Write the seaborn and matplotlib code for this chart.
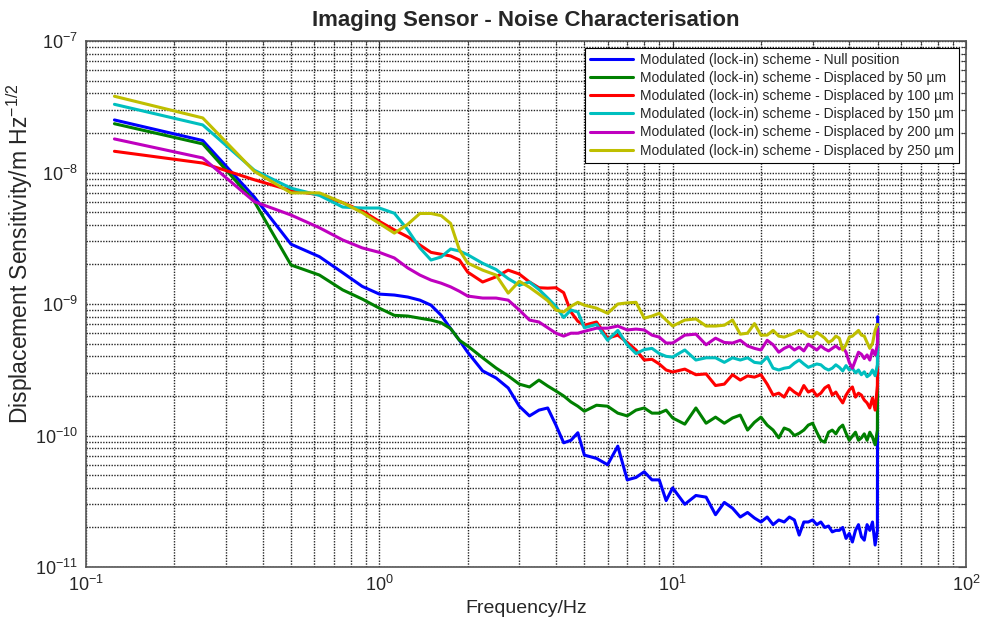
import numpy as np
import pandas as pd
import seaborn as sns
import matplotlib.pyplot as plt
from matplotlib.ticker import LogLocator, NullFormatter

sns.set_theme(style="white")
plt.rcParams.update({
    "axes.titlesize": 16,
    "axes.labelsize": 14,
    "xtick.labelsize": 13,
    "ytick.labelsize": 13,
    "legend.fontsize": 10,
    "mathtext.fontset": "custom",
    "mathtext.rm": "Liberation Sans",
    "mathtext.it": "Liberation Sans:italic",
})
plt.rcParams["font.family"] = ["Liberation Sans", "DejaVu Sans"]

# frequency bins (Hz)
freq_hz = [0.125, 0.25, 0.375, 0.5, 0.625, 0.75, 0.875, 1.0, 1.125, 1.25, 1.375, 1.5,
           1.625, 1.75, 1.875, 2.0,
           2.25, 2.5, 2.75, 3.0, 3.25, 3.5, 3.75, 4.0, 4.25, 4.5, 4.75, 5.0,
           5.5, 6.0, 6.5, 7.0, 7.5, 8.0, 8.5, 9.0, 9.5,
           10, 11, 12, 13, 14, 15, 16, 17, 18, 19, 20, 21, 22, 23, 24, 25, 26, 27, 28, 29,
           30, 31, 32, 33, 34, 35, 36, 37, 38, 39, 40, 41, 42, 43, 44, 45, 46, 47, 48, 49,
           49.875, 50]

# displacement sensitivity in units of 1e-10 m/sqrt(Hz)
UNIT = 1e-10
null_pos = [251, 175, 65, 28.5, 22.9, 17.3, 13.6, 11.9, 11.7, 11.3, 10.7, 9.8, 8.2, 6.5, 5.3, 4.3,
            3.1, 2.74, 2.30, 1.67, 1.41, 1.56, 1.62, 1.20, 0.88, 0.92, 1.05, 0.71,
            0.67, 0.60, 0.83, 0.46, 0.48, 0.53, 0.46, 0.46, 0.32,
            0.40, 0.30, 0.35, 0.34, 0.25, 0.31, 0.28, 0.24, 0.26, 0.236, 0.22, 0.24, 0.21, 0.228,
            0.22, 0.24, 0.228, 0.175, 0.22, 0.22, 0.228, 0.21, 0.22, 0.20, 0.205, 0.185, 0.19,
            0.19, 0.20, 0.165, 0.18, 0.155, 0.19, 0.21, 0.17, 0.16, 0.21, 0.19, 0.22, 0.147,
            0.19, 8.0]
disp_50 = [235, 165, 60, 19.8, 16.6, 12.8, 10.9, 9.3, 8.2, 8.1, 7.8, 7.55, 7.2, 6.5, 5.3, 4.8,
           3.9, 3.26, 2.84, 2.46, 2.34, 2.64, 2.38, 2.18, 2.0, 1.80, 1.67, 1.53,
           1.70, 1.67, 1.48, 1.41, 1.56, 1.62, 1.48, 1.48, 1.56,
           1.36, 1.22, 1.62, 1.24, 1.38, 1.24, 1.36, 1.43, 1.10, 1.26, 1.38, 1.2, 1.10, 0.96,
           1.14, 1.10, 1.0, 1.04, 1.10, 1.2, 1.24, 1.06, 0.92, 0.89, 1.06, 1.10, 1.03, 1.14,
           1.2, 1.04, 0.92, 0.99, 1.06, 0.92, 0.96, 1.03, 0.92, 1.06, 0.97, 0.85,
           1.10, 6.5]
disp_100 = [145, 118, 88, 73, 67.6, 59, 51, 42.5, 36.6, 32.4, 28.1, 24.7, 23.9, 23.2, 21.6, 17.5,
            14.7, 16.1, 18.1, 16.9, 14.7, 13.3, 13.2, 13.3, 12.2, 8.7, 7.4, 6.9,
            7.3, 5.5, 5.8, 5.1, 4.47, 3.75, 3.8, 3.5, 3.15,
            3.04, 3.2, 2.9, 2.94, 2.4, 2.46, 2.9, 2.64, 2.84, 2.78, 2.9, 2.46, 2.03, 2.1, 1.96,
            2.3, 2.14, 2.03, 2.4, 2.14, 2.22, 2.0, 2.1, 2.3, 2.4, 2.03, 2.14, 1.93, 1.77, 2.03,
            2.22, 2.34, 1.96, 2.1, 2.03, 1.86, 1.77, 1.62, 1.93, 1.56,
            2.4, 6.0]
disp_150 = [330, 230, 104, 76, 67, 54.6, 53.7, 53.7, 49, 36.6, 26.7, 21.6, 22.8, 26.2, 25.3, 23.7,
            20.4, 18.3, 15.6, 13.9, 14.7, 12.9, 11.1, 9.6, 7.9, 9.0, 8.7, 6.6,
            7.0, 5.3, 6.3, 4.9, 4.2, 4.5, 4.6, 4.2, 4.0,
            3.95, 4.47, 3.75, 3.9, 3.9, 3.6, 3.9, 3.75, 3.9, 3.6, 3.55, 3.95, 3.25, 3.15, 3.25,
            3.3, 3.55, 3.75, 3.5, 3.3, 3.4, 3.5, 3.45, 3.25, 3.15, 3.25, 3.45, 3.3, 3.1, 3.4,
            3.15, 3.25, 3.0, 3.15, 2.9, 3.05, 2.8, 2.9, 3.15, 2.85,
            3.45, 6.5]
disp_200 = [180, 129, 60, 47.5, 38, 30.7, 26.7, 24.7, 22.4, 18.8, 16.6, 15.2, 14.4, 13.5, 12.5, 11.5,
            11.1, 11.1, 10.7, 9.0, 7.55, 7.3, 6.6, 6.0, 5.7, 6.0, 6.0, 6.2,
            6.55, 6.55, 6.8, 6.35, 6.45, 6.35, 5.8, 5.6, 5.05,
            5.05, 5.8, 5.9, 4.9, 5.5, 5.1, 5.05, 5.3, 4.8, 4.6, 4.47, 5.3, 4.9, 4.3, 4.6,
            4.8, 4.47, 4.7, 4.4, 4.95, 4.7, 4.47, 4.8, 4.55, 4.4, 4.6, 4.8, 4.55, 4.7, 4.3,
            3.6, 3.25, 3.75, 4.3, 4.15, 3.85, 4.1, 3.75, 4.47, 4.1,
            4.9, 6.5]
disp_250 = [380, 260, 102, 70, 70, 59, 49.5, 41, 34.6, 40.4, 48.8, 48.8, 47, 41, 25.8, 20.5,
            18.1, 16.6, 12.1, 14.9, 13.4, 11.9, 10.6, 9.0, 8.7, 9.6, 10.3, 9.8,
            9.3, 8.5, 10.0, 10.2, 10.3, 7.8, 8.1, 8.5, 7.55,
            6.8, 7.55, 7.7, 6.8, 6.8, 6.9, 7.55, 5.9, 6.0, 7.1, 5.8, 5.8, 6.3, 5.7, 5.6,
            5.8, 6.0, 6.3, 6.1, 5.7, 5.6, 6.1, 5.8, 5.5, 5.1, 5.3, 5.7, 5.5, 4.47, 4.9,
            5.6, 5.7, 6.0, 6.3, 5.8, 5.7, 5.1, 4.6, 5.0, 6.3,
            7.0, 7.0]

labels = ["Modulated (lock-in) scheme - Null position",
          "Modulated (lock-in) scheme - Displaced by 50 \u00b5m",
          "Modulated (lock-in) scheme - Displaced by 100 \u00b5m",
          "Modulated (lock-in) scheme - Displaced by 150 \u00b5m",
          "Modulated (lock-in) scheme - Displaced by 200 \u00b5m",
          "Modulated (lock-in) scheme - Displaced by 250 \u00b5m"]
colors = ["#0000ff", "#008000", "#ff0000", "#00bfbf", "#bf00bf", "#bfbf00"]

frames = []
for lab, vals in zip(labels, [null_pos, disp_50, disp_100, disp_150, disp_200, disp_250]):
    frames.append(pd.DataFrame({"Frequency": freq_hz,
                                "ASD": np.array(vals) * UNIT,
                                "Scheme": lab}))
df = pd.concat(frames, ignore_index=True)

fig = plt.figure(figsize=(9.83, 6.26), dpi=100)
ax = fig.add_axes([0.0875, 0.0942, 0.8952, 0.8403])
sns.lineplot(data=df, x="Frequency", y="ASD", hue="Scheme", hue_order=labels,
             palette=colors, estimator=None, sort=False, linewidth=2.2, ax=ax)

ax.set_xscale("log")
ax.set_yscale("log")
ax.set_xlim(0.1, 100)
ax.set_ylim(1e-11, 1e-7)
ax.xaxis.set_major_locator(LogLocator(base=10, numticks=10))
ax.yaxis.set_major_locator(LogLocator(base=10, numticks=10))
ax.xaxis.set_minor_locator(LogLocator(base=10, subs=np.arange(2, 10), numticks=50))
ax.yaxis.set_minor_locator(LogLocator(base=10, subs=np.arange(2, 10), numticks=50))
ax.xaxis.set_minor_formatter(NullFormatter())
ax.yaxis.set_minor_formatter(NullFormatter())

ax.grid(True, which="both", color="black", linestyle=(0, (1, 1)), linewidth=1.0, alpha=0.85)
ax.tick_params(which="both", direction="in", top=True, right=True, color="#333333")
ax.tick_params(which="major", length=6, width=0.8, pad=6)
ax.tick_params(which="minor", length=3, width=0.6)
for sp in ax.spines.values():
    sp.set_color("#555555")
    sp.set_linewidth(1.2)

ax.set_title("Imaging Sensor - Noise Characterisation", fontweight="bold", pad=11)
ax.set_xlabel("Frequency/Hz", labelpad=3)
ax.set_ylabel("Displacement Sensitivity/m Hz$^{-1/2}$", fontsize=16.5)
ax.yaxis.set_label_coords(-0.058, 0.595)

handles, labs = ax.get_legend_handles_labels()
leg = ax.legend(handles, labs, loc="upper right", frameon=True, fancybox=False,
                edgecolor="black", framealpha=1, handlelength=3.1, handletextpad=0.5,
                labelspacing=0.3, borderaxespad=0.5, borderpad=0.35)
leg.get_frame().set_linewidth(0.8)

fig.savefig("out.png", dpi=100)
